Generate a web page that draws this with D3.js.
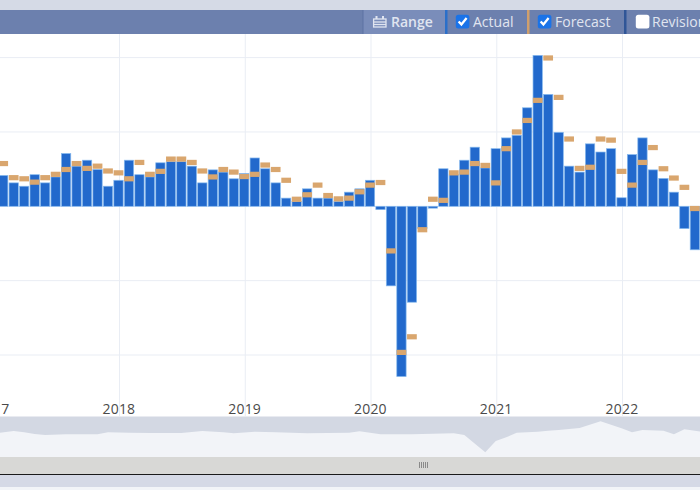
<!DOCTYPE html>
<html>
<head>
<meta charset="utf-8">
<script src="https://cdn.jsdelivr.net/npm/d3@7/dist/d3.min.js"></script>
<style>
  html, body { margin: 0; padding: 0; background: #fff; overflow: hidden; }
  svg { display: block; }
  text { font-family: "Open Sans", sans-serif; }
</style>
</head>
<body>
<svg id="chart" width="700" height="490"></svg>
<script>
// Monthly series, February 2017 onward
const actualValues = [
  0.83, 0.63, 0.54, 0.85, 0.63, 0.79, 1.42, 1.08, 1.24, 0.99, 0.54, 0.70,
  1.24, 0.85, 0.79, 1.17, 1.20, 1.20, 1.08, 0.63, 0.98, 0.92, 0.74, 0.88,
  1.30, 1.01, 0.63, 0.22, 0.13, 0.47, 0.22, 0.22, 0.13, 0.38, 0.47, 0.70,
  -0.09, -2.14, -4.58, -2.58, -0.60, -0.05, 1.01, 0.85, 1.24, 1.59, 1.03, 1.55,
  1.84, 1.91, 2.65, 4.06, 3.01, 1.99, 1.08, 0.92, 1.68, 1.46, 1.55, 0.23,
  1.39, 1.84, 0.98, 0.75, 0.38, -0.60, -1.17
];
const forecastValues = [
  1.15, 0.77, 0.74, 0.65, 0.77, 0.86, 0.99, 1.15, 1.02, 1.08, 0.95, 0.90,
  0.74, 1.18, 0.86, 0.94, 1.27, 1.27, 1.18, 0.95, 0.79, 0.99, 0.92, 0.80,
  0.86, 1.11, 0.99, 0.70, 0.19, 0.31, 0.57, 0.29, 0.20, 0.22, 0.39, 0.57,
  0.64, -1.20, -3.93, -3.51, -0.63, 0.19, 0.16, 0.90, 0.92, 1.15, 1.10, 0.63,
  1.55, 2.00, 2.31, 2.85, 3.99, 2.93, 1.81, 1.02, 1.05, 1.81, 1.78, 0.94,
  0.57, 1.18, 1.58, 1.01, 0.76, 0.51, -0.06
];
const gridValues = [-4, -2, 0, 2, 4];
const yearLabels = [2017, 2018, 2019, 2020, 2021, 2022];

// Overview strip: longer-run series sampled at the months where it turns
const navMonths = [
  "2017-01", "2017-03", "2017-04", "2017-05", "2017-06", "2017-08", "2017-11", "2017-12",
  "2018-02", "2018-04", "2018-07", "2018-09", "2018-11", "2018-12", "2019-02", "2019-04",
  "2019-07", "2019-11", "2019-12", "2020-02", "2020-05", "2020-09", "2020-10", "2020-12",
  "2021-01", "2021-02", "2021-03", "2021-05", "2021-06", "2021-07", "2021-09", "2021-11",
  "2022-01", "2022-02", "2022-03", "2022-05", "2022-06", "2022-07", "2022-09"
];
const navValues = [
  1.75, 3, 2.35, 1.5, 1, 1.35, 1.35, 2.35,
  2.15, 2, 2, 3, 2.35, 1.85, 2.65, 2.35,
  1.85, 2.15, 2.85, 1.35, 1.35, 1.85, 1, -7.65,
  -2, -0.15, 2.15, 2.65, 3.15, 3.5, 4.5, 7.85,
  4.35, 2.35, 3.5, 3.15, 1.35, 3.85, 2.35
];
const toolbarItems = [
  { label: "Actual", checked: true, box: 456, text: 473, accent: "#2a6fc9", accentX: 445 },
  { label: "Forecast", checked: true, box: 538, text: 555, accent: "#cf9f6c", accentX: 527 },
  { label: "Revisions", checked: false, box: 636, text: 652, accent: "#2f5597", accentX: 624 }
];

const colors = {
  bar: "#2269cc", barEdge: "#86b9ee", forecast: "#d9a66e", grid: "#e9edf4", tick: "#4a4a4a",
  band: "#d5dae6", toolbar: "#6c80ae", toolbarLight: "#7a8dba", toolbarText: "#e0e5f0",
  navBack: "#d3d8e3", navFill: "#f2f4f8", scroll: "#d8d8d6", rail: "#d5d9e6", foot: "#f2f4f8"
};

const svg = d3.select("#chart");
const monthKey = d3.utcFormat("%Y-%m");

const allMonths = d3.utcMonth.range(new Date(Date.UTC(2017, 0, 1)), new Date(Date.UTC(2022, 9, 1))).map(monthKey);
const barMonths = allMonths.slice(1, 1 + actualValues.length);

const x = d3.scaleBand().domain(allMonths).range([-12.5, 710.6]).paddingInner(0.11).paddingOuter(0.055);
const y = d3.scaleLinear().domain([-4, 4]).range([355, 57.6]);
const navY = d3.scaleLinear().domain([-10, 10]).range([457, 417]);
const mid = m => x(m) + x.bandwidth() / 2;

// Page bands behind the plot
const bands = [
  [0, 0, 700, 10, colors.band],
  [0, 10, 700, 24, colors.toolbar],
  [363, 10, 82, 24, colors.toolbarLight],
  [0, 416.5, 700, 40.5, colors.navBack],
  [0, 457, 700, 17, colors.scroll],
  [0, 474, 700, 13, colors.rail],
  [0, 487, 700, 3, colors.foot]
];
svg.append("g").selectAll("rect").data(bands).join("rect")
  .attr("x", d => d[0]).attr("y", d => d[1])
  .attr("width", d => d[2]).attr("height", d => d[3]).attr("fill", d => d[4]);

// Grid
svg.append("g").selectAll("line").data(gridValues).join("line")
  .attr("x1", 0).attr("x2", 700)
  .attr("y1", d => y(d)).attr("y2", d => y(d))
  .attr("stroke", colors.grid).attr("stroke-width", 1);

const yearMonth = yr => yr + "-01";
svg.append("g").selectAll("line").data(yearLabels).join("line")
  .attr("x1", d => mid(yearMonth(d)) + 1).attr("x2", d => mid(yearMonth(d)) + 1)
  .attr("y1", 34).attr("y2", 416)
  .attr("stroke", colors.grid).attr("stroke-width", 1);

// Actual bars
svg.append("g").selectAll("rect").data(actualValues).join("rect")
  .attr("x", (d, i) => x(barMonths[i]))
  .attr("width", x.bandwidth())
  .attr("y", d => Math.min(y(d), y(0)))
  .attr("height", d => Math.abs(y(d) - y(0)))
  .attr("fill", colors.bar)
  .attr("stroke", colors.barEdge).attr("stroke-width", 0.7);

// Forecast markers
const markerHeight = 5.2;
svg.append("g").selectAll("rect").data(forecastValues).join("rect")
  .attr("x", (d, i) => x(barMonths[i]) - 0.2)
  .attr("width", x.bandwidth() + 0.4)
  .attr("y", d => y(d) - markerHeight / 2)
  .attr("height", markerHeight)
  .attr("fill", colors.forecast);

// Year labels
const axis = d3.axisBottom(x)
  .tickValues(yearLabels.map(yearMonth))
  .tickFormat(m => m.slice(0, 4))
  .tickSize(0).tickPadding(0);
const axisGroup = svg.append("g").attr("transform", "translate(0.4,404)").call(axis);
axisGroup.select(".domain").remove();
axisGroup.selectAll("text")
  .attr("font-family", '"Open Sans", sans-serif')
  .attr("font-size", 14).attr("fill", colors.tick).attr("letter-spacing", 0.2);

// Overview area
const navPoints = navMonths.map((m, i) => [mid(m), navValues[i]]);
const navArea = d3.area().x(d => d[0]).y0(457).y1(d => navY(d[1]));
svg.append("path").datum(navPoints).attr("d", navArea).attr("fill", colors.navFill);

// Scrollbar rail and grip
svg.append("line").attr("x1", 0).attr("x2", 700).attr("y1", 474.5).attr("y2", 474.5)
  .attr("stroke", "#1a1a1a").attr("stroke-width", 1);
svg.append("g").selectAll("line").data(d3.range(5)).join("line")
  .attr("x1", i => 419 + i * 2 + 0.5).attr("x2", i => 419 + i * 2 + 0.5)
  .attr("y1", 462).attr("y2", 468)
  .attr("stroke", "#8a8a8a").attr("stroke-width", 1);

// Toolbar
const toolbar = svg.append("g");
toolbar.append("line").attr("x1", 363).attr("x2", 363).attr("y1", 10).attr("y2", 34)
  .attr("stroke", "#5d72a3");

// Calendar glyph of the Range button
const glyph = toolbar.append("g").attr("transform", "translate(373,16)")
  .attr("fill", "none").attr("stroke", colors.toolbarText).attr("stroke-width", 1.3);
glyph.append("rect").attr("x", 0.6).attr("y", 3).attr("width", 12.4).attr("height", 8);
glyph.append("line").attr("x1", 0.6).attr("x2", 13).attr("y1", 6).attr("y2", 6);
glyph.append("line").attr("x1", 0.6).attr("x2", 13).attr("y1", 8.5).attr("y2", 8.5);
glyph.append("line").attr("x1", 3.5).attr("x2", 3.5).attr("y1", 0).attr("y2", 3).attr("stroke-width", 2);
glyph.append("line").attr("x1", 10).attr("x2", 10).attr("y1", 0).attr("y2", 3).attr("stroke-width", 2);

toolbar.append("text").attr("x", 391).attr("y", 27)
  .attr("font-size", 14).attr("font-weight", 600).attr("fill", colors.toolbarText).text("Range");

const item = toolbar.selectAll("g.item").data(toolbarItems).join("g").attr("class", "item");
item.append("rect")
  .attr("x", d => d.accentX).attr("y", 10).attr("width", 2.5).attr("height", 24)
  .attr("fill", d => d.accent);
item.append("rect")
  .attr("x", d => d.box - 0.2).attr("y", 14.8).attr("width", 13.6).attr("height", 13.6).attr("rx", 2.5)
  .attr("fill", d => d.checked ? "#1a73e8" : "#ffffff");
item.filter(d => d.checked).append("path")
  .attr("d", d => `M${d.box + 2.6},${21.5} L${d.box + 5.4},${24.4} L${d.box + 10.6},${18}`)
  .attr("fill", "none").attr("stroke", "#ffffff").attr("stroke-width", 2.3);
item.append("text")
  .attr("x", d => d.text).attr("y", 27)
  .attr("font-size", 14).attr("fill", colors.toolbarText).text(d => d.label);
</script>
</body>
</html>
